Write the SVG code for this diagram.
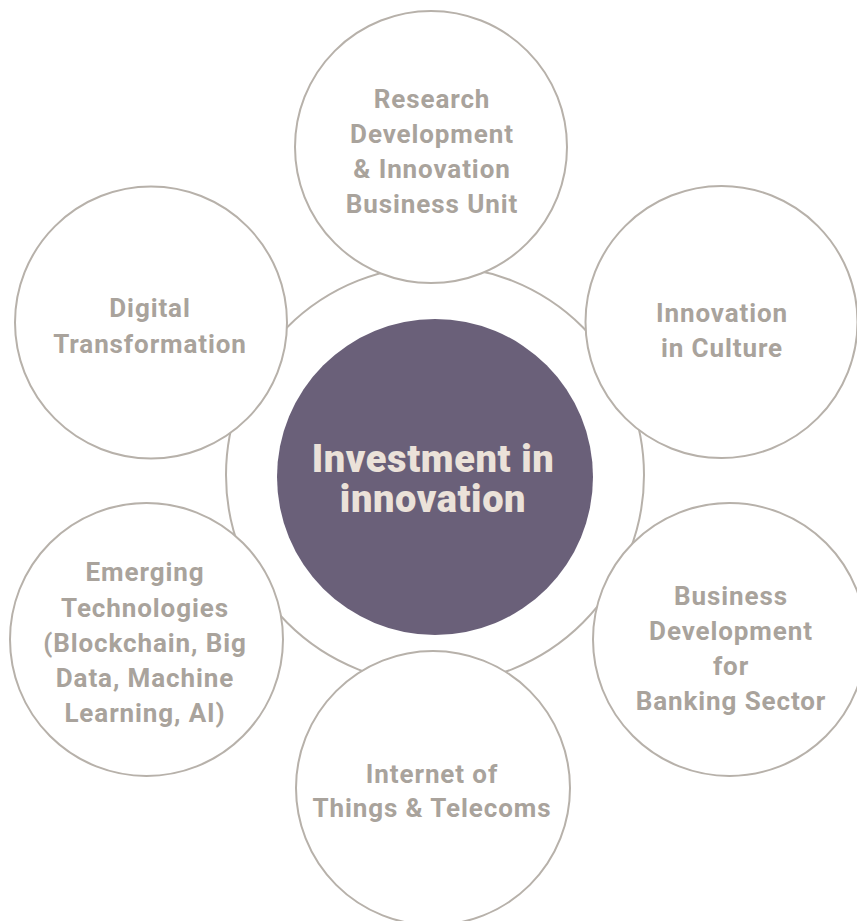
<svg xmlns="http://www.w3.org/2000/svg" width="857" height="921" viewBox="0 0 857 921">
<style>
.ring{fill:none;stroke:#b7b1aa;stroke-width:2}
.node{fill:#ffffff;stroke:#b7b1aa;stroke-width:2}
.lbl{font-family:Roboto,"Liberation Sans",sans-serif;font-weight:700;font-size:26px;letter-spacing:0.9px;fill:#a9a39c;text-anchor:middle}
.hub{fill:#6a6079}
.hubt{font-family:Roboto,"Liberation Sans",sans-serif;font-weight:900;font-size:38px;letter-spacing:0.6px;fill:#ebe2d9;text-anchor:middle}
</style>
<rect width="857" height="921" fill="#ffffff"/>
<g id="connectors">
<circle class="ring" cx="435" cy="475" r="209"/>
</g>
<g id="hub">
<circle class="hub" cx="435" cy="477" r="158"/>
<text class="hubt" x="433" y="472">Investment in</text>
<text class="hubt" x="433" y="512">innovation</text>
</g>
<g id="research">
<circle class="node" cx="431" cy="147" r="136"/>
<text class="lbl" x="432" y="108">Research</text>
<text class="lbl" x="432" y="143">Development</text>
<text class="lbl" x="432" y="178">&amp; Innovation</text>
<text class="lbl" x="432" y="213">Business Unit</text>
</g>
<g id="innovation-culture">
<circle class="node" cx="721.5" cy="322" r="136"/>
<text class="lbl" x="722" y="322">Innovation</text>
<text class="lbl" x="722" y="357">in Culture</text>
</g>
<g id="business-development">
<circle class="node" cx="729.5" cy="639.5" r="136.5"/>
<text class="lbl" x="731" y="605">Business</text>
<text class="lbl" x="731" y="640">Development</text>
<text class="lbl" x="731" y="675">for</text>
<text class="lbl" x="731" y="710">Banking Sector</text>
</g>
<g id="iot">
<circle class="node" cx="433" cy="788" r="137"/>
<text class="lbl" x="432" y="783">Internet of</text>
<text class="lbl" x="432" y="817">Things &amp; Telecoms</text>
</g>
<g id="emerging">
<circle class="node" cx="146.5" cy="639.5" r="136.5"/>
<text class="lbl" x="145" y="581">Emerging</text>
<text class="lbl" x="145" y="617">Technologies</text>
<text class="lbl" x="145" y="652">(Blockchain, Big</text>
<text class="lbl" x="145" y="687">Data, Machine</text>
<text class="lbl" x="145" y="722">Learning, AI)</text>
</g>
<g id="digital">
<circle class="node" cx="151" cy="322.5" r="136"/>
<text class="lbl" x="150" y="317">Digital</text>
<text class="lbl" x="150" y="353">Transformation</text>
</g>
</svg>
